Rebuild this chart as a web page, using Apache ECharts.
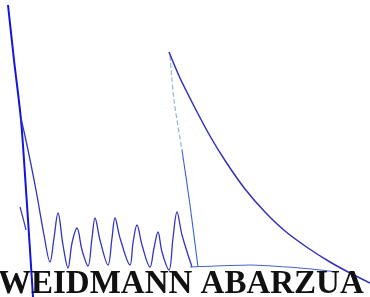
<!DOCTYPE html>
<html>
<head>
<meta charset="utf-8">
<script src="https://cdn.jsdelivr.net/npm/echarts@6/dist/echarts.min.js"></script>
<style>
html, body { margin: 0; padding: 0; background: #fff; }
#chart { width: 370px; height: 297px; }
</style>
</head>
<body>
<div id="chart"></div>
<script>
// signature strokes, in picture units (x right, y down)
var stemStroke = [[8, 5], [14, 60], [21, 120], [26, 190], [30, 250], [33, 297]]
var loopStroke = [[21, 118], [28, 150], [36, 190], [44, 235], [50, 262], [54, 238], [58, 213],
  [63, 245], [68, 268], [72, 243], [77, 228], [82, 250], [88, 266], [92, 238], [95, 218],
  [100, 240], [108, 265], [112, 238], [115, 218], [120, 238], [130, 265], [133, 243], [137, 225],
  [142, 245], [150, 267], [154, 248], [158, 232], [162, 252], [169, 270], [173, 238], [177, 212],
  [182, 235], [192, 267]]
var tickStroke = [[20, 207], [23, 218], [26, 230]]
var dropUpper = [[170, 56], [174, 100], [182, 150]]
var dropLower = [[182, 150], [190, 205], [198, 267]]
var decayStroke = [[169, 52], [180, 78], [195, 108], [210, 136], [226, 162], [245, 189],
  [265, 212], [285, 231], [308, 248], [330, 262], [350, 273], [370, 283]]
var baseStroke = [[190, 267], [250, 265], [300, 268], [338, 272]]
var nameText = 'WEIDMANN ABARZUA'

var chart = echarts.init(document.getElementById('chart'))

function stroke (data, color, width, type, smooth) {
  return {
    type: 'line',
    data: data,
    smooth: smooth,
    showSymbol: false,
    silent: true,
    animation: false,
    lineStyle: { color: color, width: width, type: type || 'solid' }
  }
}

chart.setOption({
  animation: false,
  grid: { left: 0, right: 0, top: 0, bottom: 0 },
  xAxis: { type: 'value', min: 0, max: 370, show: false },
  yAxis: { type: 'value', min: 0, max: 297, inverse: true, show: false },
  graphic: [{
    type: 'text',
    left: -2,
    top: 268,
    z: 10,
    style: {
      text: nameText,
      font: 'bold 33px "Liberation Serif"',
      fill: '#111'
    }
  }],
  series: [
    stroke(stemStroke, '#1414dc', 2, 'solid', 0.3),
    stroke(loopStroke, '#3434c0', 1.3, 'solid', 0.35),
    stroke(tickStroke, '#3434c0', 1.2, 'solid', 0.3),
    stroke(dropUpper, '#8cb8dc', 1.2, 'dashed', 0.3),
    stroke(dropLower, '#4060cc', 1.1, 'solid', 0.3),
    stroke(decayStroke, '#3232b8', 1.5, 'solid', 0.3),
    stroke(baseStroke, '#4466cc', 1.1, 'solid', 0.2)
  ]
})
</script>
</body>
</html>
